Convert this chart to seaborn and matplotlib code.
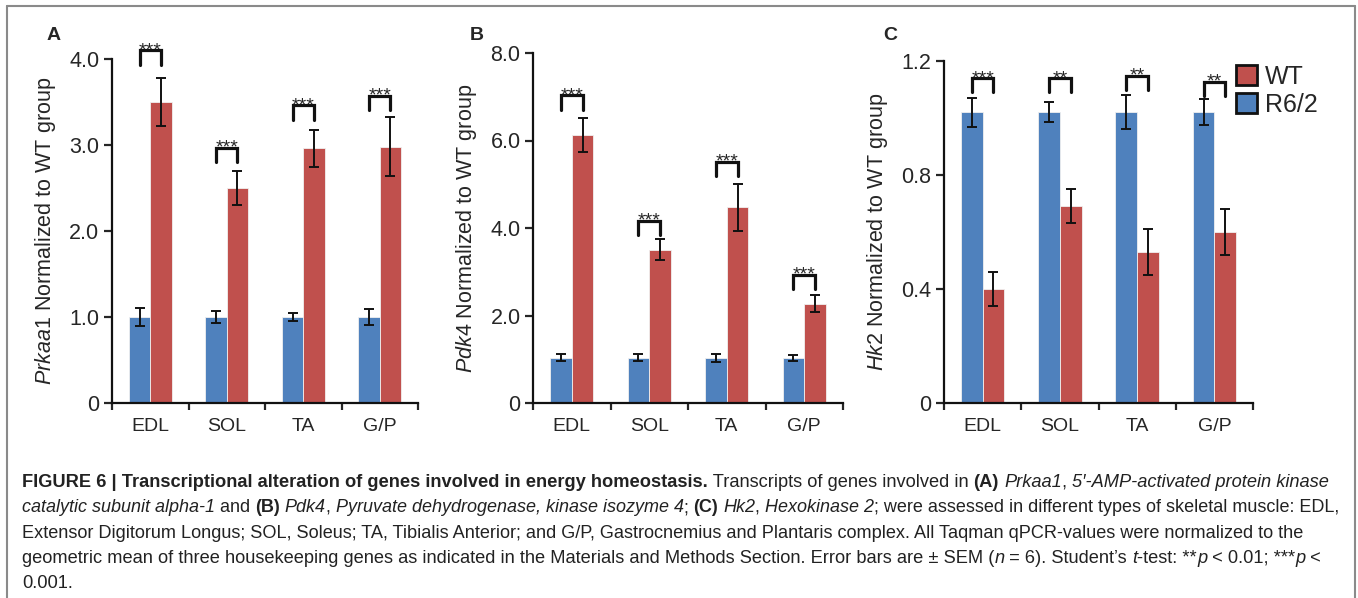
import matplotlib
matplotlib.use('Agg')
import matplotlib.pyplot as plt
import seaborn as sns
import pandas as pd
from matplotlib.patches import Patch
from matplotlib.lines import Line2D

muscles = ['EDL', 'SOL', 'TA', 'G/P']
groups = ['R6/2', 'WT']

# panel A - Prkaa1
prkaa1_r62 = [1.0, 1.0, 1.0, 1.0]
prkaa1_r62_sem = [0.10, 0.07, 0.05, 0.09]
prkaa1_wt = [3.50, 2.50, 2.96, 2.98]
prkaa1_wt_sem = [0.28, 0.20, 0.22, 0.34]
prkaa1_sig = ['***', '***', '***', '***']
prkaa1_sig_y = [4.10, 2.97, 3.46, 3.57]

# panel B - Pdk4
pdk4_r62 = [1.03, 1.03, 1.03, 1.03]
pdk4_r62_sem = [0.08, 0.08, 0.09, 0.06]
pdk4_wt = [6.13, 3.50, 4.47, 2.27]
pdk4_wt_sem = [0.39, 0.24, 0.53, 0.20]
pdk4_sig = ['***', '***', '***', '***']
pdk4_sig_y = [7.03, 4.17, 5.51, 2.93]

# panel C - Hk2
hk2_r62 = [1.02, 1.02, 1.02, 1.02]
hk2_r62_sem = [0.05, 0.035, 0.06, 0.045]
hk2_wt = [0.40, 0.69, 0.53, 0.60]
hk2_wt_sem = [0.06, 0.06, 0.08, 0.08]
hk2_sig = ['***', '**', '**', '**']
hk2_sig_y = [1.139, 1.139, 1.147, 1.128]

BLUE = '#4F81BD'
RED = '#C0504D'
W, H = 1358, 598

sns.set_style('ticks')
plt.rcParams['font.family'] = ['Liberation Sans', 'DejaVu Sans']
plt.rcParams['mathtext.fontset'] = 'custom'
plt.rcParams['mathtext.rm'] = 'Liberation Sans'
plt.rcParams['mathtext.it'] = 'Liberation Sans:italic'

fig = plt.figure(figsize=(W / 100, H / 100), dpi=100)


def px_axes(x0, x1, ytop, ybot):
    return fig.add_axes([x0 / W, 1 - ybot / H, (x1 - x0) / W, (ybot - ytop) / H])


def draw_panel(ax, r62, r62_sem, wt, wt_sem, sig, sig_y, ymax, yticks, gene):
    df = pd.DataFrame({'muscle': muscles * 2,
                       'group': ['R6/2'] * 4 + ['WT'] * 4,
                       'value': r62 + wt})
    sns.barplot(data=df, x='muscle', y='value', hue='group', hue_order=groups,
                palette={'R6/2': BLUE, 'WT': RED}, width=0.56, errorbar=None,
                saturation=1, edgecolor='#f0f0f0', linewidth=0.6, legend=False, ax=ax)
    centers = {}
    for grp, cont, sem in zip(groups, ax.containers, [r62_sem, wt_sem]):
        xs = [b.get_x() + b.get_width() / 2 for b in cont]
        ys = [b.get_height() for b in cont]
        ax.errorbar(xs, ys, yerr=sem, fmt='none', ecolor='#111111',
                    elinewidth=1.4, capsize=3.5, capthick=1.4)
        centers[grp] = xs
    leg = 0.041 * ymax
    for i in range(len(muscles)):
        x0, x1 = centers['R6/2'][i], centers['WT'][i]
        top = sig_y[i]
        ax.plot([x0, x0, x1, x1], [top - leg, top, top, top - leg], color='#111111',
                lw=2.3, solid_joinstyle='miter', clip_on=False)
        ax.annotate(sig[i], ((x0 + x1) / 2, top), xytext=(0, -3.5),
                    textcoords='offset points', ha='center', va='baseline',
                    fontsize=14, annotation_clip=False)

    ax.set_xlim(-0.5, 3.5)
    ax.set_ylim(0, ymax)
    ax.set_yticks(yticks)
    ax.set_yticklabels(['0'] + [f'{v:.1f}' for v in yticks[1:]])
    ax.set_xticks(range(4))
    ax.set_xticklabels(muscles)
    ax.set_xticks([-0.5, 0.5, 1.5, 2.5, 3.5], minor=True)
    ax.tick_params(axis='x', which='major', length=0, pad=11, labelsize=14)
    ax.tick_params(axis='x', which='minor', length=5, width=1.6, direction='out')
    ax.tick_params(axis='y', length=6, width=1.6, pad=3, labelsize=15.5)
    ax.set_xlabel('')
    ax.set_ylabel(f'$\\it{{{gene}}}$ Normalized to WT group', fontsize=15.5, labelpad=8)
    sns.despine(ax=ax)
    for s in ['left', 'bottom']:
        ax.spines[s].set_linewidth(1.6)
        ax.spines[s].set_color('#111111')


axA = px_axes(112, 418, 59, 403)
draw_panel(axA, prkaa1_r62, prkaa1_r62_sem, prkaa1_wt, prkaa1_wt_sem,
           prkaa1_sig, prkaa1_sig_y, 4.0, [0, 1.0, 2.0, 3.0, 4.0], 'Prkaa1')
axB = px_axes(533, 843, 53, 403)
draw_panel(axB, pdk4_r62, pdk4_r62_sem, pdk4_wt, pdk4_wt_sem,
           pdk4_sig, pdk4_sig_y, 8.0, [0, 2.0, 4.0, 6.0, 8.0], 'Pdk4')
axC = px_axes(944, 1253, 61, 403)
draw_panel(axC, hk2_r62, hk2_r62_sem, hk2_wt, hk2_wt_sem,
           hk2_sig, hk2_sig_y, 1.2, [0, 0.4, 0.8, 1.2], 'Hk2')

for letter, xp in [('A', 47), ('B', 470), ('C', 883)]:
    fig.text(xp / W, 1 - 40 / H, letter, fontsize=14, fontweight='bold', va='baseline')

handles = [Patch(facecolor=RED, edgecolor='#111111', linewidth=2, label='WT'),
           Patch(facecolor=BLUE, edgecolor='#111111', linewidth=2, label='R6/2')]
fig.legend(handles=handles, loc='upper left', bbox_to_anchor=(1236 / W, 1 - 65 / H),
           frameon=False, fontsize=18, handlelength=0.85, handleheight=0.85,
           handletextpad=0.3, labelspacing=0.15, borderpad=0, borderaxespad=0)

# frame around the figure
for xs, ys in [([7, 1355], [6, 6]), ([7, 7], [6, 598]), ([1355, 1355], [6, 598])]:
    fig.add_artist(Line2D([x / W for x in xs], [1 - y / H for y in ys],
                          color='#8a8a8a', lw=1.5))

# caption
CAP_FONT = ['Liberation Sans', 'DejaVu Sans']
CAP_SIZE = 13.2

caption = [
    [('FIGURE 6 | Transcriptional alteration of genes involved in energy homeostasis.', 'b'),
     (' Transcripts of genes involved in ', 'n'), ('(A)', 'b'), (' ', 'n'), ('Prkaa1', 'i'),
     (', ', 'n'), ('5\u2032-AMP-activated protein kinase', 'i')],
    [('catalytic subunit alpha-1', 'i'), (' and ', 'n'), ('(B)', 'b'), (' ', 'n'), ('Pdk4', 'i'),
     (', ', 'n'), ('Pyruvate dehydrogenase, kinase isozyme 4', 'i'), ('; ', 'n'), ('(C)', 'b'),
     (' ', 'n'), ('Hk2', 'i'), (', ', 'n'), ('Hexokinase 2', 'i'),
     ('; were assessed in different types of skeletal muscle: EDL,', 'n')],
    [('Extensor Digitorum Longus; SOL, Soleus; TA, Tibialis Anterior; and G/P, Gastrocnemius '
      'and Plantaris complex. All Taqman qPCR-values were normalized to the', 'n')],
    [('geometric mean of three housekeeping genes as indicated in the Materials and Methods '
      'Section. Error bars are \u00b1 SEM (', 'n'), ('n', 'i'), (' = 6). Student\u2019s ', 'n'),
     ('t', 'i'), ('-test: **', 'n'), ('p', 'i'), (' < 0.01; ***', 'n'), ('p', 'i'), (' <', 'n')],
    [('0.001.', 'n')],
]
# right end (px) of each caption line in the reference
caption_ends = [1332, 1343, 1305, 1323, None]

renderer = fig.canvas.get_renderer()


def run_kw(st, size):
    return dict(fontsize=size, family=CAP_FONT, color='#222222',
                fontweight='bold' if st == 'b' else 'normal',
                fontstyle='italic' if st == 'i' else 'normal')


def text_width(s, **kw):
    t1 = fig.text(0, 0, '|' + s + '|', **kw)
    t2 = fig.text(0, 0, '||', **kw)
    w = t1.get_window_extent(renderer).width - t2.get_window_extent(renderer).width
    t1.remove()
    t2.remove()
    return w


x_start = 22
for li, runs in enumerate(caption):
    size = CAP_SIZE
    if caption_ends[li] is not None:
        natural = sum(text_width(txt, **run_kw(st, CAP_SIZE)) for txt, st in runs)
        size = CAP_SIZE * (caption_ends[li] - x_start) / natural
    x = x_start
    y = 487 + li * 25.3
    for txt, st in runs:
        kw = run_kw(st, size)
        fig.text(x / W, 1 - y / H, txt, va='baseline', ha='left', **kw)
        x += text_width(txt, **kw)

fig.savefig('out.png', dpi=100)
